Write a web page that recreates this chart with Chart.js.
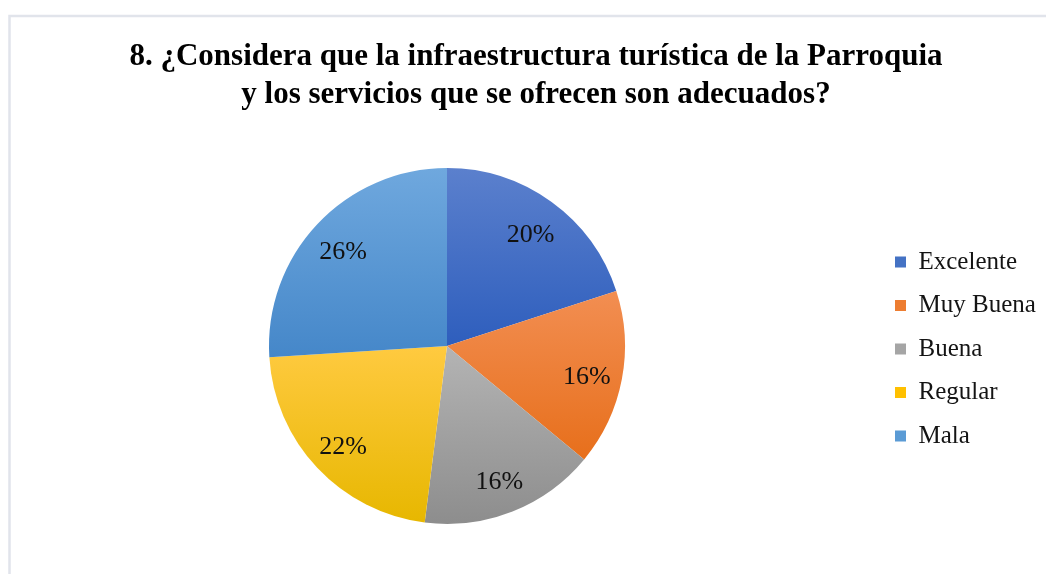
<!DOCTYPE html>
<html>
<head>
<meta charset="utf-8">
<script src="https://cdn.jsdelivr.net/npm/chart.js@4.4.1/dist/chart.umd.min.js"></script>
<style>
  html, body { margin: 0; padding: 0; background: #ffffff; overflow: hidden; width: 1046px; height: 574px; }
  #wrap { position: absolute; left: 0; top: 0; width: 1055px; height: 574px; }
</style>
</head>
<body>
<div id="wrap"><canvas id="c" width="1055" height="574"></canvas></div>
<script>
// ---- data ----
const titleLines = ['8. ¿Considera que la infraestructura turística de la Parroquia', 'y los servicios que se ofrecen son adecuados?'];
const categories = ['Excelente', 'Muy Buena', 'Buena', 'Regular', 'Mala'];
const percentages = [20, 16, 16, 22, 26];
const colorTop = ['#5b80cd', '#f28e52', '#b4b4b4', '#ffca40', '#6fa8de'];
const colorBottom = ['#2e5ebd', '#e76f1b', '#8d8d8d', '#e7b700', '#4587c9'];
const colorMid = ['#4472c4', '#ed7d31', '#a5a5a5', '#ffc000', '#5b9bd5'];

const LEGEND_W = 178;
const SERIF = '"Liberation Serif", "Times New Roman", serif';
const TEXT_COLOR = '#141414';

function sliceGradient(context) {
  const chart = context.chart;
  const i = context.dataIndex;
  const area = chart.chartArea;
  if (!area || i === undefined) return colorMid[i] || colorMid[0];
  const cx = (area.left + area.right) / 2;
  const cy = (area.top + area.bottom) / 2;
  const r = Math.min(area.right - area.left, area.bottom - area.top) / 2;
  const total = percentages.reduce((a, b) => a + b, 0);
  let before = 0;
  for (let k = 0; k < i; k++) before += percentages[k];
  const a0 = -Math.PI / 2 + before / total * 2 * Math.PI;
  const a1 = a0 + percentages[i] / total * 2 * Math.PI;
  const ys = [cy, cy + r * Math.sin(a0), cy + r * Math.sin(a1)];
  const inRange = (ang) => {
    for (let k = -2; k <= 2; k++) {
      const a = ang + k * 2 * Math.PI;
      if (a >= a0 && a <= a1) return true;
    }
    return false;
  };
  if (inRange(-Math.PI / 2)) ys.push(cy - r);
  if (inRange(Math.PI / 2)) ys.push(cy + r);
  const minY = Math.min(...ys), maxY = Math.max(...ys);
  const g = chart.ctx.createLinearGradient(0, minY, 0, maxY);
  g.addColorStop(0, colorTop[i]);
  g.addColorStop(1, colorBottom[i]);
  return g;
}

const framePlugin = {
  id: 'frame',
  beforeDraw(chart) {
    const ctx = chart.ctx;
    ctx.save();
    ctx.fillStyle = '#ffffff';
    ctx.fillRect(0, 0, chart.width, chart.height);
    ctx.strokeStyle = '#e1e4eb';
    ctx.lineWidth = 2.5;
    ctx.beginPath();
    ctx.moveTo(9.5, chart.height + 5);
    ctx.lineTo(9.5, 16);
    ctx.lineTo(chart.width + 5, 16);
    ctx.stroke();
    ctx.restore();
  }
};

const legendWidthPlugin = {
  id: 'legendWidth',
  beforeInit(chart) {
    const legend = chart.legend;
    if (!legend) return;
    const orig = legend.fit;
    legend.fit = function () { orig.call(this); this.width = LEGEND_W; };
  }
};

const labelPlugin = {
  id: 'sliceLabels',
  afterDatasetsDraw(chart) {
    const ctx = chart.ctx;
    const meta = chart.getDatasetMeta(0);
    ctx.save();
    ctx.font = '26px ' + SERIF;
    ctx.fillStyle = '#111111';
    ctx.textAlign = 'center';
    ctx.textBaseline = 'middle';
    meta.data.forEach((arc, i) => {
      const p = arc.getProps(['x', 'y', 'startAngle', 'endAngle', 'outerRadius'], true);
      const mid = (p.startAngle + p.endAngle) / 2;
      const rr = p.outerRadius * 0.8;
      ctx.fillText(percentages[i] + '%', p.x + Math.cos(mid) * rr, p.y + Math.sin(mid) * rr + 4);
    });
    ctx.restore();
  }
};

new Chart(document.getElementById('c'), {
  type: 'pie',
  data: {
    labels: categories,
    datasets: [{
      data: percentages,
      backgroundColor: sliceGradient,
      borderWidth: 0
    }]
  },
  options: {
    responsive: false,
    animation: false,
    layout: { padding: { left: 17.5, right: 0.5, top: 0, bottom: 50 } },
    plugins: {
      title: {
        display: true,
        text: titleLines,
        color: '#000000',
        font: { family: SERIF, size: 31, weight: 'bold', lineHeight: 38 / 31 },
        padding: { top: 38, bottom: 54 }
      },
      legend: {
        display: true,
        position: 'right',
        fullSize: false,
        align: 'center',
        title: { display: true, text: '', color: TEXT_COLOR, font: { size: 1, lineHeight: 1 }, padding: { top: 3, bottom: 2 } },
        labels: {
          boxWidth: 11,
          boxHeight: 11,
          padding: 18.5,
          color: TEXT_COLOR,
          font: { family: SERIF, size: 25 },
          generateLabels(chart) {
            return categories.map((name, i) => ({
              text: name,
              fillStyle: colorMid[i],
              strokeStyle: colorMid[i],
              fontColor: TEXT_COLOR,
              lineWidth: 0,
              hidden: false,
              index: i
            }));
          }
        }
      },
      tooltip: { enabled: false }
    }
  },
  plugins: [framePlugin, legendWidthPlugin, labelPlugin]
});
</script>
</body>
</html>
